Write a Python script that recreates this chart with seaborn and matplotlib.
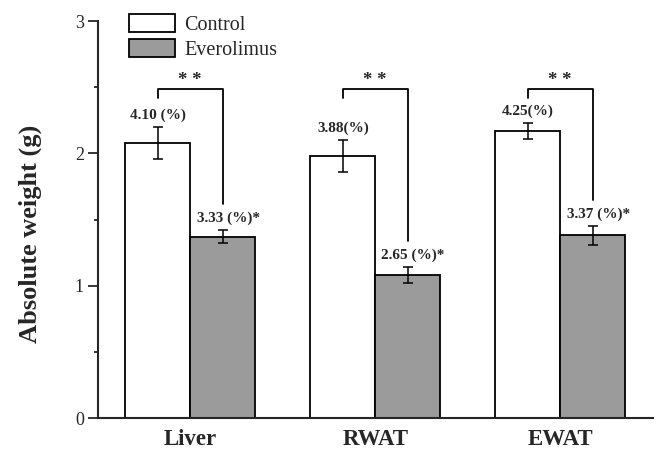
import pandas as pd
import seaborn as sns
import matplotlib.pyplot as plt
from matplotlib.ticker import MultipleLocator

# values
tissues = ["Liver", "RWAT", "EWAT"]
groups = ["Control", "Everolimus"]
control_mean = [2.08, 1.98, 2.17]
control_err = [0.12, 0.12, 0.06]
evero_mean = [1.37, 1.08, 1.38]
evero_err = [0.05, 0.06, 0.07]
control_pct = ["4.10 (%)", "3.88(%)", "4.25(%)"]
evero_pct = ["3.33 (%)*", "2.65 (%)*", "3.37 (%)*"]

df = pd.DataFrame({
    "tissue": tissues * 2,
    "group": [groups[0]] * 3 + [groups[1]] * 3,
    "weight": control_mean + evero_mean,
})

sns.set_style("ticks")
plt.rcParams["font.family"] = ["Liberation Serif", "DejaVu Serif"]

fig = plt.figure(figsize=(6.56, 4.5), dpi=100)
ax = fig.add_axes([0.149, 0.071, 0.846, 0.882])
sns.barplot(data=df, x="tissue", y="weight", hue="group", order=tissues,
            hue_order=groups, palette=["white", "#9b9b9b"], edgecolor="black",
            linewidth=1.3, width=0.7, errorbar=None, saturation=1, ax=ax)

xc0 = [p.get_x() + p.get_width() / 2 for p in ax.containers[0]]
xc1 = [p.get_x() + p.get_width() / 2 for p in ax.containers[1]]

ax.errorbar(xc0, control_mean, yerr=control_err, fmt="none", ecolor="black",
            elinewidth=1.1, capsize=3.5, capthick=1.1)
ax.errorbar(xc1, evero_mean, yerr=evero_err, fmt="none", ecolor="black",
            elinewidth=1.1, capsize=3.5, capthick=1.1)

# brackets + labels
for i in range(3):
    top_c = control_mean[i] + control_err[i]
    top_e = evero_mean[i] + evero_err[i]
    ax.plot([xc0[i], xc0[i], xc1[i], xc1[i]], [2.42, 2.49, 2.49, top_e + 0.2],
            color="black", lw=1.3)
    ax.text((xc0[i] + xc1[i]) / 2, 2.49, "* *", ha="center", va="bottom",
            fontsize=13.5, fontweight="bold")
    ax.text(xc0[i], top_c + 0.09, control_pct[i], ha="center", va="center",
            fontsize=11, fontweight="bold")
    ax.text(xc1[i] + 0.03, top_e + 0.09, evero_pct[i], ha="center", va="center",
            fontsize=11, fontweight="bold")

ax.set_ylim(0, 3)
ax.set_xlim(-0.5, 2.5)
ax.yaxis.set_major_locator(MultipleLocator(1))
ax.yaxis.set_minor_locator(MultipleLocator(0.5))
ax.tick_params(axis="y", which="major", length=7, width=1.3, labelsize=13, pad=3)
ax.tick_params(axis="y", which="minor", length=3, width=1.3)
ax.tick_params(axis="x", length=0, labelsize=16.5, pad=8)
for lab in ax.get_xticklabels():
    lab.set_fontweight("bold")
sns.despine(ax=ax)
ax.spines["left"].set_linewidth(1.5)
ax.spines["bottom"].set_linewidth(1.5)

ax.set_xlabel("")
ax.set_ylabel("Absolute weight (g)", fontsize=19, fontweight="bold")
ax.yaxis.set_label_coords(-0.10, 0.465)

handles = [ax.containers[0][0], ax.containers[1][0]]
ax.legend(handles, groups, loc="upper left", bbox_to_anchor=(0.056, 1.018),
          fontsize=14.5, frameon=False, handlelength=2.3, handleheight=1.0,
          labelspacing=0.22, handletextpad=0.45, borderaxespad=0, borderpad=0)

fig.savefig("out.png", dpi=100)
plt.close(fig)
